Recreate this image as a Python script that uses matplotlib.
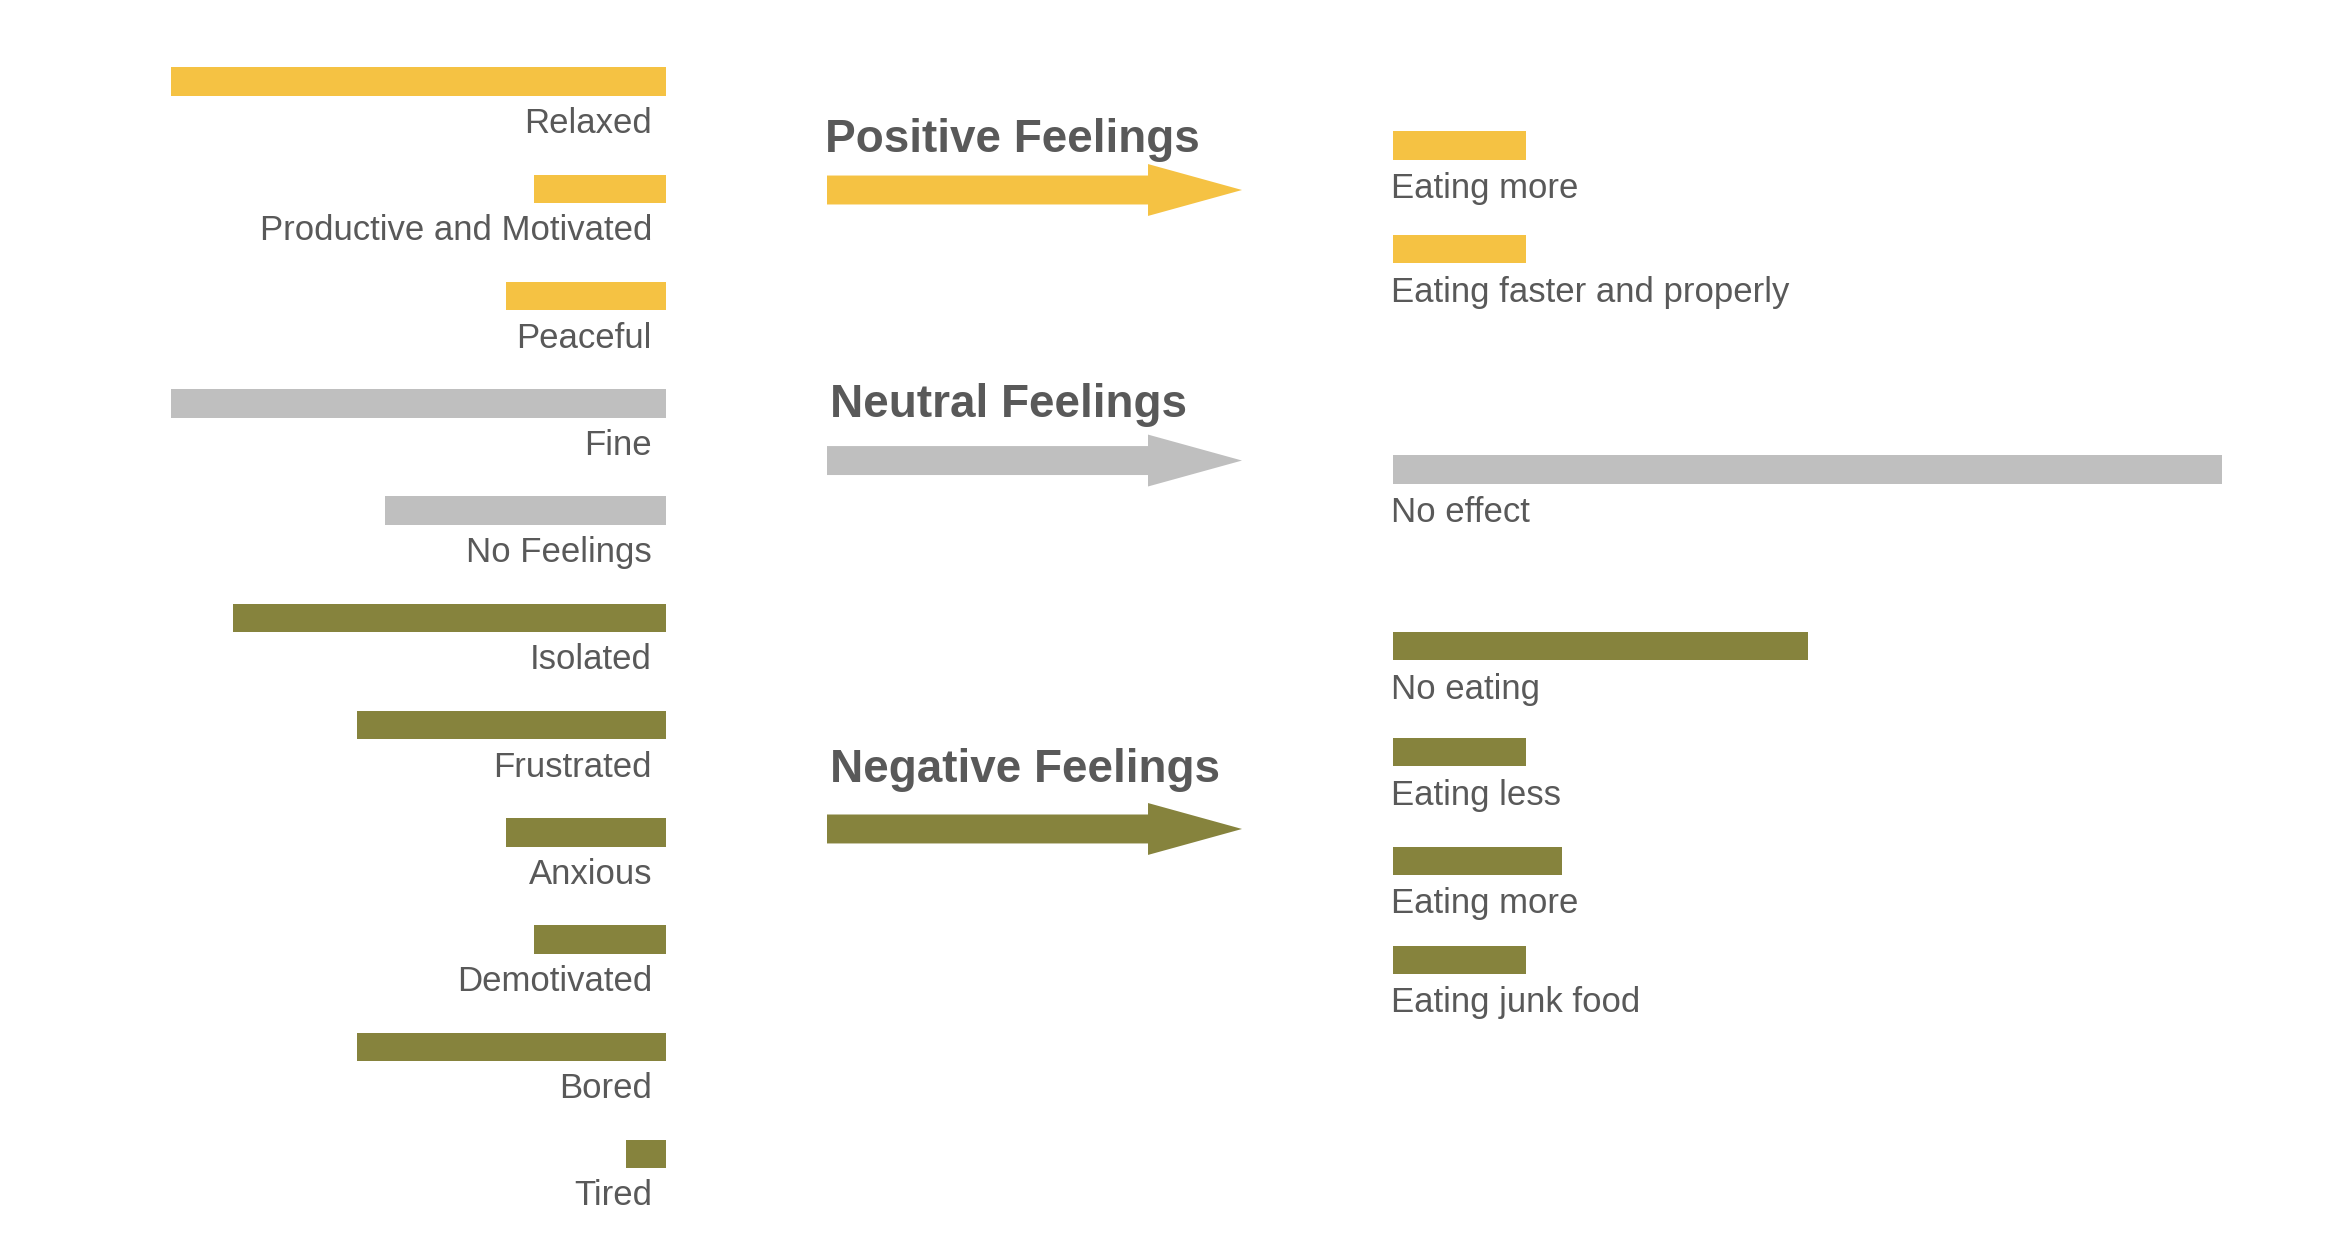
import numpy as np
import matplotlib
matplotlib.use("Agg")
import matplotlib.pyplot as plt
from matplotlib.patches import FancyArrow

# DATA
feelings = ["Relaxed", "Productive and Motivated", "Peaceful", "Fine", "No Feelings",
            "Isolated", "Frustrated", "Anxious", "Demotivated", "Bored", "Tired"]
feeling_vals = [30, 8, 9.7, 30, 17, 26.2, 18.7, 9.7, 8, 18.7, 2.4]
feeling_group = ["pos", "pos", "pos", "neu", "neu", "neg", "neg", "neg", "neg", "neg", "neg"]

effects = ["Eating more", "Eating faster and properly", "No effect", "No eating",
           "Eating less", "Eating more", "Eating junk food"]
effect_vals = [8, 8, 50, 25, 8, 10.2, 8]
effect_group = ["pos", "pos", "neu", "neg", "neg", "neg", "neg"]

groups = ["pos", "neu", "neg"]
group_titles = ["Positive Feelings", "Neutral Feelings", "Negative Feelings"]

colors = {"pos": "#F5C243", "neu": "#BFBFBF", "neg": "#86833D"}
txt = "#595959"

# layout (rows in units of left bar spacing)
effect_pos = [0.594, 1.562, 3.617, 5.265, 6.252, 7.267, 8.189]
arrow_pos = [1.01, 3.533, 6.969]
title_pos = [0.656, 3.123, 6.531]
title_x = [-0.004, 0.008, 0.008]

plt.rcParams["font.family"] = ["Liberation Sans", "DejaVu Sans"]

fig = plt.figure(figsize=(23.28, 12.54), dpi=100)
bot, h = 0.0370, 0.9406

#LEFT BARS
axl = fig.add_axes([0.07324, bot, 0.28608 - 0.07324, h])
y = np.arange(len(feelings))
axl.barh(y, feeling_vals, height=0.265, color=[colors[g] for g in feeling_group])
axl.set_xlim(30, 0)
axl.set_ylim(10.5, -0.5)
for i, name in enumerate(feelings):
    axl.text(0.85, i + 0.48, name, ha="right", va="baseline", fontsize=25, color=txt)
axl.axis("off")

#ARROWS + TITLES
axm = fig.add_axes([0.35524, bot, 0.53351 - 0.35524, h])
axm.set_xlim(0, 1)
axm.set_ylim(10.5, -0.5)
for k, g in enumerate(groups):
    axm.add_patch(FancyArrow(0, arrow_pos[k], 1, 0, width=0.27, head_width=0.484,
                             head_length=0.2265, length_includes_head=True,
                             color=colors[g], lw=0))
    axm.text(title_x[k], title_pos[k], group_titles[k], ha="left", va="baseline",
             fontsize=33, fontweight="bold", color=txt)
axm.axis("off")

#RIGHT BARS
axr = fig.add_axes([0.59837, bot, 0.9545 - 0.59837, h])
axr.barh(effect_pos, effect_vals, height=0.265, color=[colors[g] for g in effect_group])
axr.set_xlim(0, 50)
axr.set_ylim(10.5, -0.5)
for i, name in enumerate(effects):
    axr.text(-0.1, effect_pos[i] + 0.49, name, ha="left", va="baseline", fontsize=25, color=txt)
axr.axis("off")

fig.savefig("out.png", dpi=100, facecolor="white")
